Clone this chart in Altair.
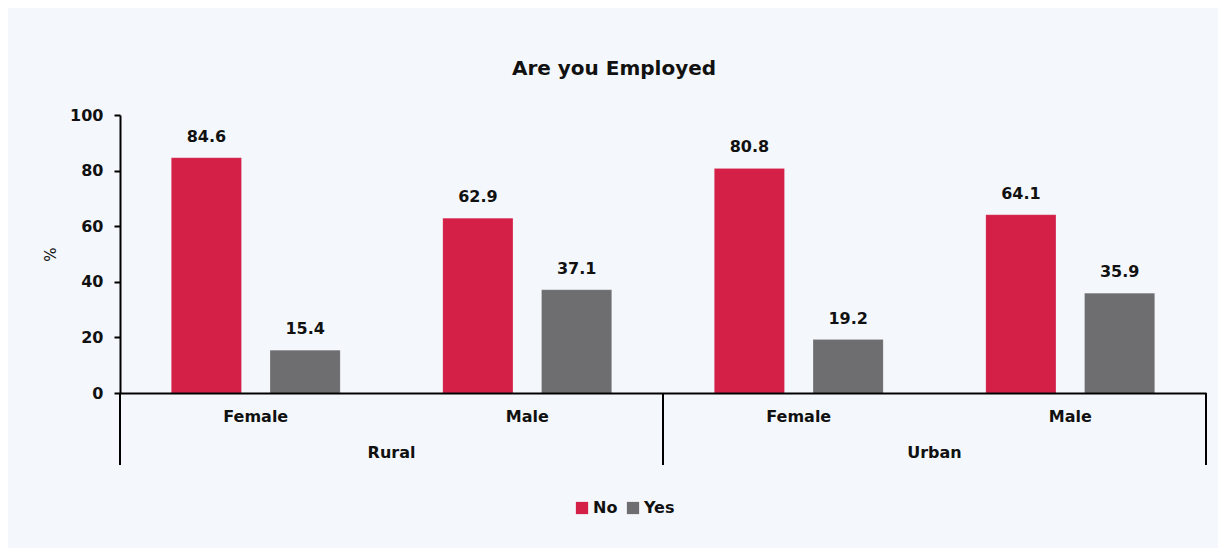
import altair as alt
import pandas as pd

regions = ["Rural", "Rural", "Urban", "Urban"]
genders = ["Female", "Male", "Female", "Male"]
no_vals = [84.6, 62.9, 80.8, 64.1]
yes_vals = [15.4, 37.1, 19.2, 35.9]
responses = ["No", "Yes"]
colors = ["#d41f47", "#6e6e70"]
region_names = ["Rural", "Urban"]
region_mid = [1, 3]
boundaries = [0, 2, 4]
y_ticks = [0, 20, 40, 60, 80, 100]

rows = []
for r, g, n, y in zip(regions, genders, no_vals, yes_vals):
    rows.append({"cat": f"{r}|{g}", "Response": "No", "value": n})
    rows.append({"cat": f"{r}|{g}", "Response": "Yes", "value": y})
df = pd.DataFrame(rows)
cat_order = [f"{r}|{g}" for r, g in zip(regions, genders)]

W, H = 1086, 278
FONT = "DejaVu Sans"
band_scale = alt.Scale(paddingInner=0, paddingOuter=0)

x_band = alt.X("cat:N", sort=cat_order, title=None, scale=band_scale,
               axis=alt.Axis(labelExpr="split(datum.label, '|')[1]", labelAngle=0,
                             ticks=False, tickSize=0, labelPadding=15, zindex=2,
                             labelFontSize=16, labelFontWeight=600, labelColor="#111",
                             domainColor="#000", domainWidth=2, labelFont=FONT))
x_band_noaxis = alt.X("cat:N", sort=cat_order, title=None, scale=band_scale, axis=None)
x_off = alt.XOffset("Response:N", sort=responses,
                    scale=alt.Scale(paddingInner=0.29, paddingOuter=0.52))
y_enc = alt.Y("value:Q", title="%",
              scale=alt.Scale(domain=[0, 100], nice=False),
              axis=alt.Axis(values=y_ticks, grid=False, domainColor="#000", domainWidth=2,
                            tickColor="#000", tickWidth=2, tickSize=6, labelPadding=11,
                            labelFontSize=16, labelFontWeight="bold", labelColor="#111",
                            labelFont=FONT, titleFont=FONT, titleFontSize=15, zindex=2,
                            titleFontWeight="normal", titleColor="#111", titlePadding=11))
color_enc = alt.Color("Response:N", sort=responses,
                      scale=alt.Scale(domain=responses, range=colors),
                      legend=alt.Legend(title=None, orient="none", direction="horizontal",
                                        legendX=454, legendY=385, symbolType="square",
                                        symbolSize=150, symbolStrokeWidth=0,
                                        labelFontSize=16, labelFontWeight=600,
                                        labelFont=FONT, labelColor="#111",
                                        columnPadding=7, labelOffset=3))

bg = alt.Chart(pd.DataFrame({"a": [0]})).mark_rect(color="#f4f8fc").encode(
    x=alt.value(-112), x2=alt.value(W + 12), y=alt.value(-107), y2=alt.value(433))

bars = alt.Chart(df).mark_bar(stroke="#ffffff", strokeOpacity=0.25, strokeWidth=0.5).encode(
    x=x_band, xOffset=x_off, y=y_enc, color=color_enc)

labels = alt.Chart(df).mark_text(baseline="bottom", dy=-13, fontSize=16, fontWeight="bold",
                                 font=FONT, color="#111").encode(
    x=x_band_noaxis, xOffset=x_off, y=alt.Y("value:Q"), text=alt.Text("value:Q", format=".1f"))

q_scale = alt.Scale(domain=[0, 4], nice=False, zero=False)

rules = alt.Chart(pd.DataFrame({"pos": boundaries})).mark_rule(color="#000", strokeWidth=2).encode(
    x=alt.X("pos:Q", scale=q_scale, axis=None), y=alt.value(H), y2=alt.value(350))

reg = alt.Chart(pd.DataFrame({"mid": region_mid, "name": region_names})).mark_text(
    fontSize=16, fontWeight=600, font=FONT, color="#111", baseline="middle").encode(
    x=alt.X("mid:Q", scale=q_scale, axis=None), y=alt.value(338), text="name:N")

title = alt.Chart(pd.DataFrame({"t": ["Are you Employed"]})).mark_text(
    fontSize=20, fontWeight="bold", font=FONT, color="#111", baseline="middle").encode(
    x=alt.value(494), y=alt.value(-46), text="t:N")

chart = alt.layer(bg, bars, labels, rules, reg, title).resolve_scale(x="independent").properties(
    width=W, height=H, padding={"left": 8, "top": 8, "right": 8, "bottom": 8},
    background="#ffffff"
).configure_view(stroke=None)

chart.save("out.html", embed_options={"renderer": "svg", "actions": False})
